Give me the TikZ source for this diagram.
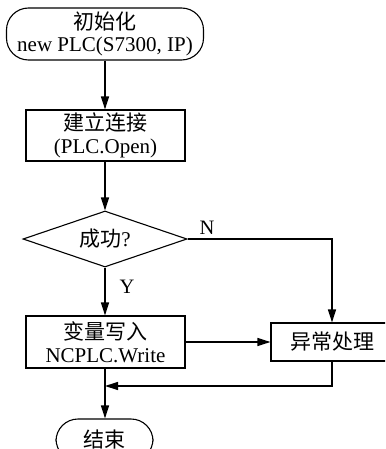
\documentclass[tikz,border=0pt]{standalone}
\usepackage{fontspec}
\setmainfont{Liberation Serif}
\newfontfamily\cjk{Noto Sans CJK SC}
\usetikzlibrary{shapes.geometric,arrows.meta}
\tikzset{
  every node/.style={font=\fontsize{21}{22.5}\selectfont, inner sep=0pt, align=center},
  proc/.style={draw, line width=1.1pt, rectangle},
  term/.style={draw, line width=1.1pt, rectangle, rounded corners=22pt},
  decide/.style={draw, line width=1.1pt, diamond, aspect=2.88},
  conn/.style={line width=1.3pt, -{Triangle[length=13pt,width=8pt]}},
  lbl/.style={font=\fontsize{20.5}{22}\selectfont}
}
\begin{document}
\begin{tikzpicture}[x=1pt,y=-1pt]
\useasboundingbox (0,0) rectangle (385,449);
\clip (0,0) rectangle (385,449);
\node[term, minimum width=197pt, minimum height=52pt] (start) at (105,34) {{\cjk 初始化}\\new PLC(S7300, IP)};
\node[proc, minimum width=159pt, minimum height=51pt] (open) at (105.5,135.5) {{\cjk 建立连接}\\(PLC.Open)};
\node[decide, minimum width=164pt, minimum height=56pt] (ok) at (105,239) {{\cjk 成功}?};
\node[proc, minimum width=159pt, minimum height=52pt] (write) at (105.5,342) {{\cjk 变量写入}\\NCPLC.Write};
\node[proc, minimum width=122pt, minimum height=38pt] (err) at (332,342) {{\cjk 异常处理}};
\node[term, minimum width=97pt, minimum height=42pt] (end) at (104.5,440) {{\cjk 结束}};
\coordinate (j) at (105,386);
\node[lbl] (nl) at (207,228) {N};
\node[lbl] (yl) at (127,287) {Y};
\draw[conn] (start.south -| 105,0) -- (open.north -| 105,0);
\draw[conn] (open.south -| 105,0) -- (ok.north);
\draw[conn] (ok.south) -- (write.north -| 105,0);
\draw[conn] (ok.east) -| (err.north);
\draw[conn] (write.east) -- (err.west);
\draw[conn] (err.south) |- (j);
\draw[conn] (write.south -| 105,0) -- (end.north -| 105,0);
\end{tikzpicture}
\end{document}
